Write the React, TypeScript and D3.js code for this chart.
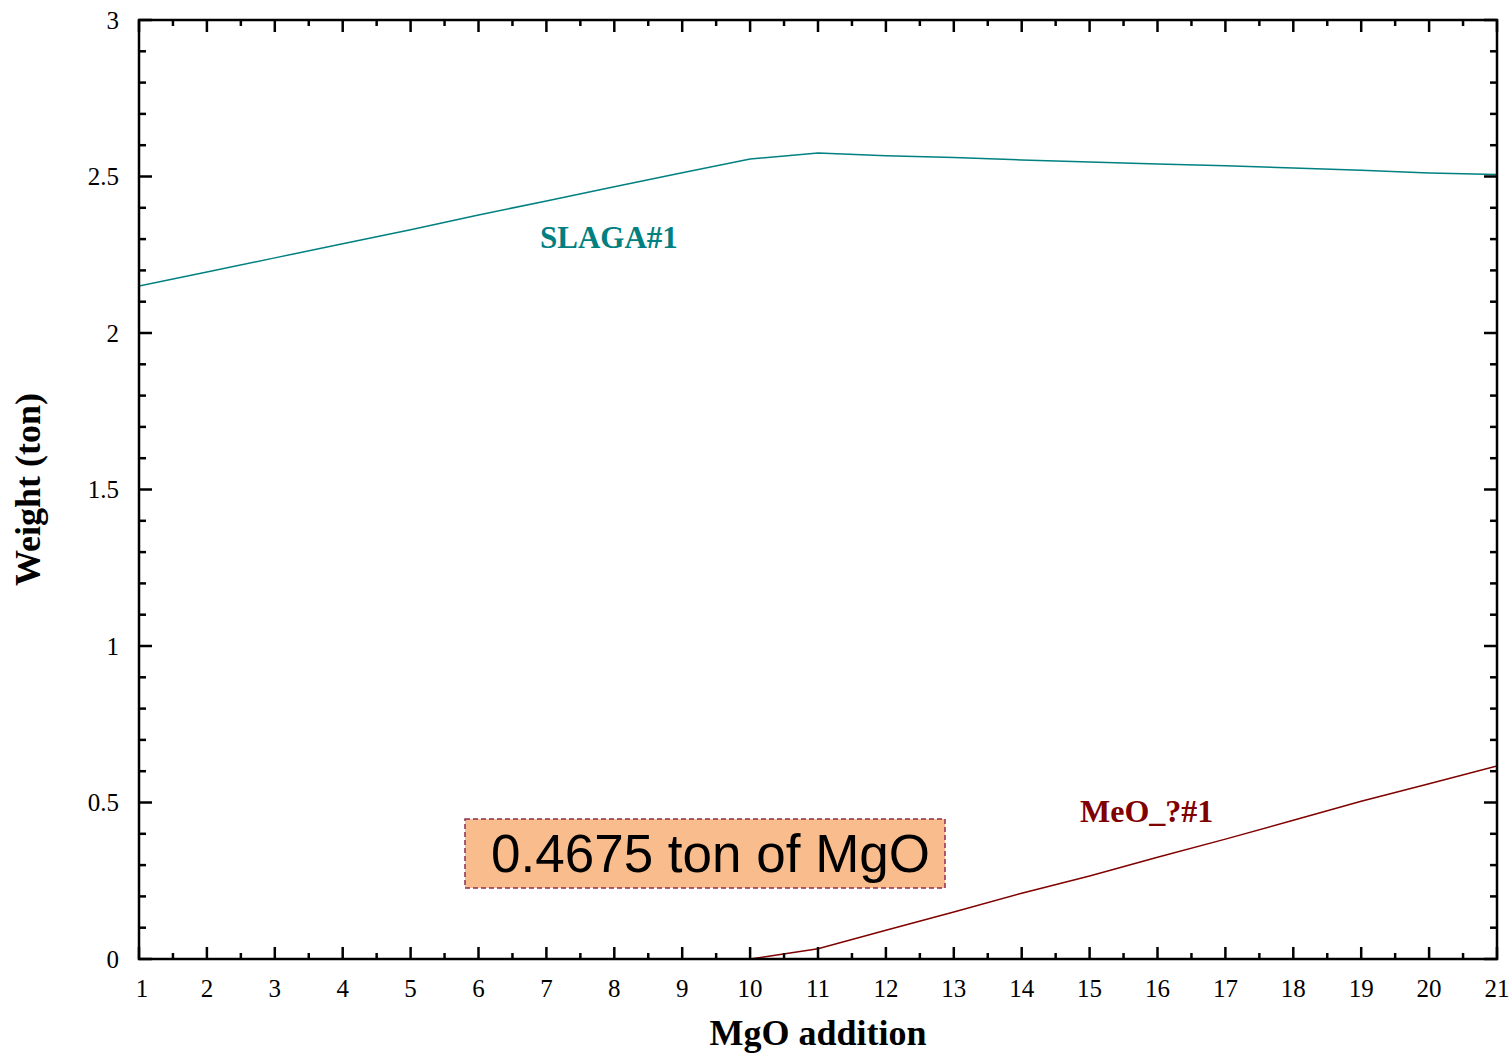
import React, { useEffect, useRef } from 'react';
import * as d3 from 'd3';

// MgO addition steps
const steps = [1, 2, 3, 4, 5, 6, 7, 8, 9, 10, 11, 12, 13, 14, 15, 16, 17, 18, 19, 20, 21];

// weight (ton) of the slag phase
const slagValues = [2.150, 2.195, 2.240, 2.285, 2.330, 2.377, 2.422, 2.467, 2.512, 2.556, 2.575,
  2.566, 2.561, 2.553, 2.546, 2.540, 2.534, 2.527, 2.520, 2.511, 2.506];

// weight (ton) of the MeO phase (absent before step 10)
const meoSteps = [10, 11, 12, 13, 14, 15, 16, 17, 18, 19, 20, 21];
const meoValues = [0, 0.033, 0.092, 0.150, 0.210, 0.265, 0.325, 0.383, 0.443, 0.504, 0.560, 0.617];

const yTicks = [0, 0.5, 1, 1.5, 2, 2.5, 3];

const SERIF = '"Liberation Serif", "Times New Roman", serif';

const App: React.FC = () => {
  const svgRef = useRef<SVGSVGElement>(null);

  useEffect(() => {
    document.body.style.margin = '0';
    if (!svgRef.current) return;

    const width = 1510;
    const height = 1053;
    const left = 139, right = 1497, top = 20, bottom = 959;

    const svg = d3.select(svgRef.current);
    svg.selectAll('*').remove();

    const x = d3.scaleLinear().domain([1, 21]).range([left, right]);
    const y = d3.scaleLinear().domain([0, 3]).range([bottom, top]);

    svg.append('rect').attr('width', width).attr('height', height).attr('fill', '#fff');

    const clip = svg.append('clipPath').attr('id', 'plot-clip');
    clip.append('rect').attr('x', left).attr('y', top).attr('width', right - left).attr('height', bottom - top);

    const plot = svg.append('g').attr('clip-path', 'url(#plot-clip)');

    const slagLine = d3.line<number>()
      .x((_, i) => x(steps[i]))
      .y(d => y(d));

    plot.append('path')
      .attr('d', slagLine(slagValues))
      .attr('fill', 'none')
      .attr('stroke', '#008080')
      .attr('stroke-width', 1.5);

    const meoLine = d3.line<number>()
      .x((_, i) => x(meoSteps[i]))
      .y(d => y(d));

    plot.append('path')
      .attr('d', meoLine(meoValues))
      .attr('fill', 'none')
      .attr('stroke', '#800000')
      .attr('stroke-width', 1.5);

    // series labels
    svg.append('text')
      .attr('x', 540).attr('y', 248)
      .attr('font-family', SERIF).attr('font-weight', 'bold').attr('font-size', 31)
      .attr('fill', '#008080')
      .text('SLAGA#1');

    svg.append('text')
      .attr('x', 1080).attr('y', 822)
      .attr('font-family', SERIF).attr('font-weight', 'bold').attr('font-size', 32)
      .attr('fill', '#800000')
      .text('MeO_?#1');

    // annotation box
    svg.append('rect')
      .attr('x', 465).attr('y', 819).attr('width', 480).attr('height', 69)
      .attr('fill', '#f9bc8d')
      .attr('stroke', '#8a2f52')
      .attr('stroke-width', 1.5)
      .attr('stroke-dasharray', '5,3');

    svg.append('text')
      .attr('x', 491).attr('y', 872)
      .attr('font-family', '"Liberation Sans", Arial, sans-serif')
      .attr('font-size', 53)
      .attr('fill', '#000')
      .text('0.4675 ton of MgO');

    // frame
    svg.append('rect')
      .attr('x', left).attr('y', top).attr('width', right - left).attr('height', bottom - top)
      .attr('fill', 'none').attr('stroke', '#000').attr('stroke-width', 2.5);

    const ticks = svg.append('g').attr('stroke', '#000').attr('stroke-width', 2.5);

    // x ticks, major at integers, minor at halves
    const xMajor = d3.range(1, 22);
    const xMinor = d3.range(1.5, 21, 1);
    xMajor.forEach(v => {
      ticks.append('line').attr('x1', x(v)).attr('x2', x(v)).attr('y1', bottom).attr('y2', bottom - 12);
      ticks.append('line').attr('x1', x(v)).attr('x2', x(v)).attr('y1', top).attr('y2', top + 12);
    });
    xMinor.forEach(v => {
      ticks.append('line').attr('x1', x(v)).attr('x2', x(v)).attr('y1', bottom).attr('y2', bottom - 6);
      ticks.append('line').attr('x1', x(v)).attr('x2', x(v)).attr('y1', top).attr('y2', top + 6);
    });

    // y ticks, major every 0.5, minor every 0.1
    const yMinor = d3.range(0, 31).map(i => i / 10).filter(v => Math.round(v * 10) % 5 !== 0);
    yTicks.forEach(v => {
      ticks.append('line').attr('x1', left).attr('x2', left + 13).attr('y1', y(v)).attr('y2', y(v));
      ticks.append('line').attr('x1', right).attr('x2', right - 13).attr('y1', y(v)).attr('y2', y(v));
    });
    yMinor.forEach(v => {
      ticks.append('line').attr('x1', left).attr('x2', left + 7).attr('y1', y(v)).attr('y2', y(v));
      ticks.append('line').attr('x1', right).attr('x2', right - 7).attr('y1', y(v)).attr('y2', y(v));
    });

    // tick labels
    svg.append('g').selectAll('text').data(xMajor).join('text')
      .attr('x', d => (d === 1 ? x(d) + 3 : x(d))).attr('y', 997)
      .attr('text-anchor', 'middle')
      .attr('font-family', SERIF).attr('font-size', 25)
      .text(d => d);

    svg.append('g').selectAll('text').data(yTicks).join('text')
      .attr('x', 119).attr('y', d => y(d))
      .attr('text-anchor', 'end').attr('dominant-baseline', 'central')
      .attr('font-family', SERIF).attr('font-size', 25)
      .text(d => d);

    // axis titles
    svg.append('text')
      .attr('x', (left + right) / 2).attr('y', 1045)
      .attr('text-anchor', 'middle')
      .attr('font-family', SERIF).attr('font-weight', 'bold').attr('font-size', 36)
      .text('MgO addition');

    svg.append('text')
      .attr('transform', `translate(40, ${(top + bottom) / 2}) rotate(-90)`)
      .attr('text-anchor', 'middle')
      .attr('font-family', SERIF).attr('font-weight', 'bold').attr('font-size', 36)
      .text('Weight (ton)');
  }, []);

  return <svg ref={svgRef} width={1510} height={1053} style={{ display: 'block' }}></svg>;
};

export default App;
